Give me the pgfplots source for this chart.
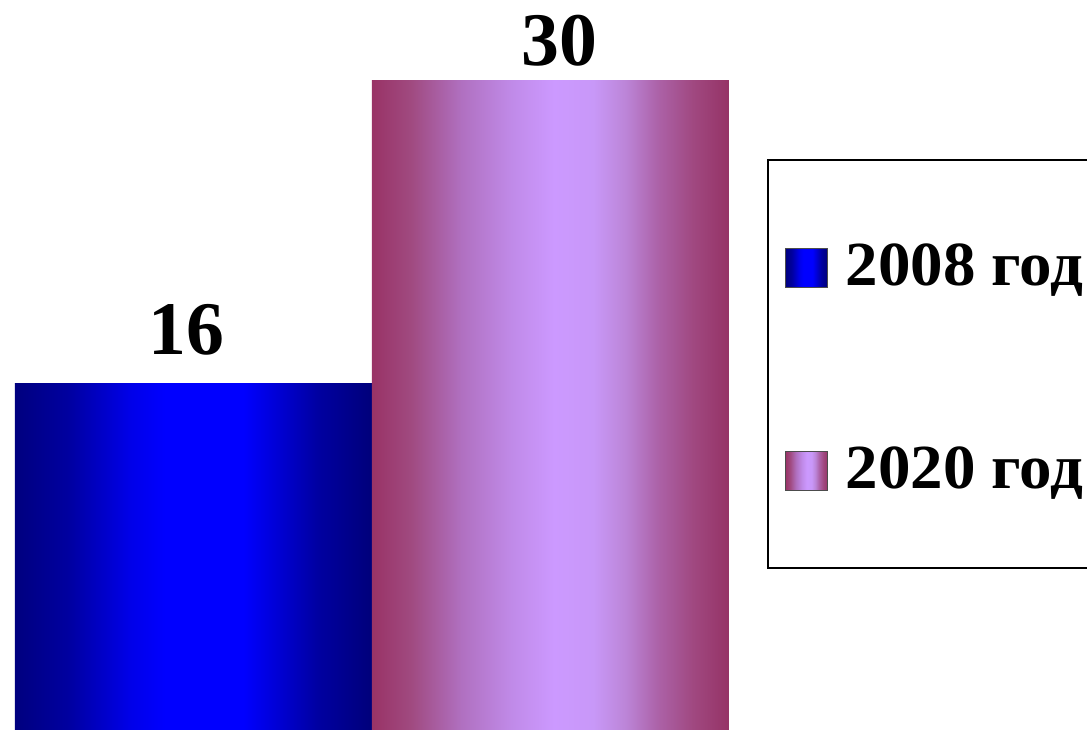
\documentclass[border=0pt]{standalone}
\usepackage{fontspec}
\setmainfont{Liberation Serif}
\newfontfamily\legfont{Liberation Serif}[FakeStretch=1.035]
\usepackage{pgfplots}
\pgfplotsset{compat=1.18}
\definecolor{bA}{HTML}{00007F}
\definecolor{bB}{HTML}{0000A0}
\definecolor{bC}{HTML}{0000E8}
\definecolor{bD}{HTML}{0000FF}
\definecolor{bE}{HTML}{0000E0}
\definecolor{bF}{HTML}{0000A0}
\definecolor{bG}{HTML}{00007A}
\definecolor{pA}{HTML}{993366}
\definecolor{pB}{HTML}{A04A80}
\definecolor{pC}{HTML}{B070C0}
\definecolor{pD}{HTML}{C08AE8}
\definecolor{pE}{HTML}{CC99FF}
\definecolor{pF}{HTML}{C898F8}
\definecolor{pG}{HTML}{BC85D8}
\definecolor{pH}{HTML}{AC62A8}
\definecolor{pJ}{HTML}{A04880}
\definecolor{pI}{HTML}{953366}
\pgfdeclarehorizontalshading{blueshade}{100bp}{color(0bp)=(bA); color(25bp)=(bA); color(32.5bp)=(bB); color(41bp)=(bC); color(46bp)=(bD); color(57bp)=(bD); color(60.5bp)=(bE); color(67.5bp)=(bF); color(75bp)=(bG); color(100bp)=(bG)}
\pgfdeclarehorizontalshading{lilshade}{100bp}{color(0bp)=(pA); color(25bp)=(pA); color(30.5bp)=(pB); color(37.5bp)=(pC); color(44.5bp)=(pD); color(50.5bp)=(pE); color(56bp)=(pF); color(60.5bp)=(pG); color(65bp)=(pH); color(70bp)=(pJ); color(75bp)=(pI); color(100bp)=(pI)}
\begin{document}
\begin{tikzpicture}
\useasboundingbox (0,0) rectangle (1087bp,730bp);
\begin{scope}
\clip (0,0) rectangle (1087bp,730bp);
\begin{axis}[
  at={(0bp,0bp)}, anchor=south west,
  scale only axis, width=1087bp, height=730bp,
  hide axis,
  xmin=-372, xmax=715, ymin=0, ymax=33.73,
  ybar=0pt, bar width=357bp,
  clip=false,
  /pgf/number format/assume math mode=true,
  legend image code/.code={\draw[#1,draw=black!70,line width=0.8bp] (0bp,-22bp) rectangle (42bp,17bp); \path (60bp,0bp);},
  legend style={at={(785/1087,486/730)}, anchor=north west, draw=none, fill=none, inner sep=0pt, row sep=158.5bp,
    font=\legfont\fontsize{63}{70}\selectfont\bfseries, nodes={inner sep=0pt}},
  legend cell align=left,
  every node near coord/.append style={font=\fontsize{76}{80}\selectfont\bfseries, inner sep=0pt, black},
]
\addplot[draw=none, shading=blueshade, nodes near coords,
  every node near coord/.append style={yshift=28bp, xshift=-7bp}] coordinates {(0,16)};
\addlegendentry{2008 год}
\addplot[draw=none, shading=lilshade, nodes near coords,
  every node near coord/.append style={yshift=14bp, xshift=9bp}] coordinates {(0,30)};
\addlegendentry{2020 год}
\end{axis}
\draw[black, line width=1.3bp] (768bp,162bp) rectangle (1110bp,570bp);
\end{scope}
\end{tikzpicture}
\end{document}
